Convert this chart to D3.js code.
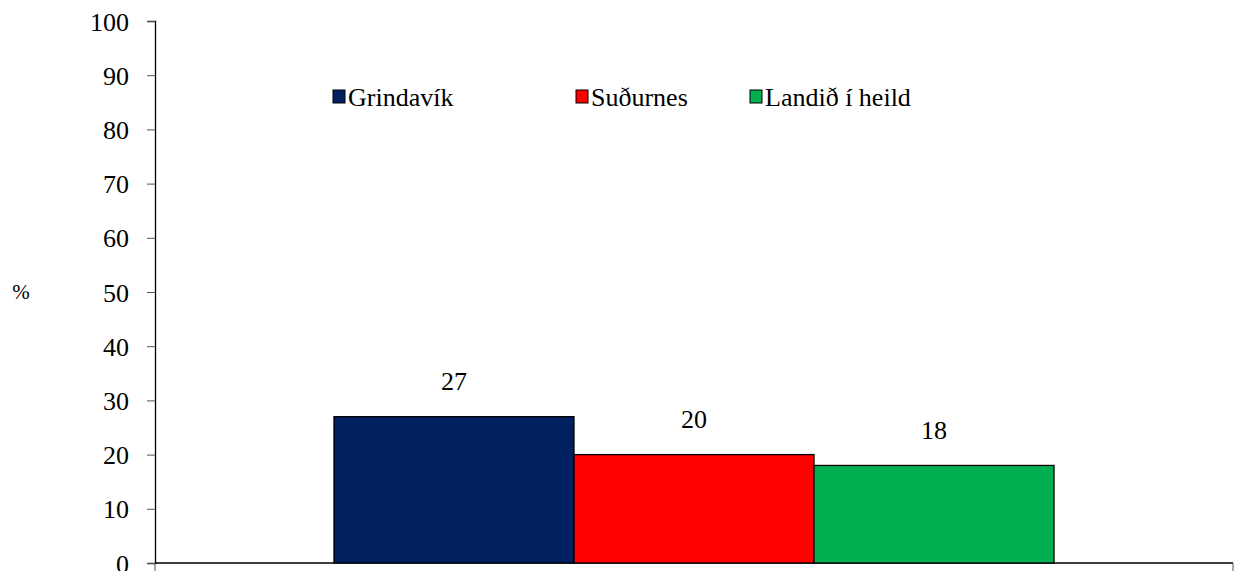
<!DOCTYPE html>
<html><head><meta charset="utf-8">
<script src="https://cdn.jsdelivr.net/npm/d3@7"></script>
</head><body style="margin:0;background:#fff"><svg id="c" width="1238" height="571" style="display:block"></svg>
<script>
const categories = [""];
const seriesNames = ["Grindavík", "Suðurnes", "Landið í heild"];
const seriesValues = [27, 20, 18];
const seriesColors = ["#002060", "#FF0000", "#00B050"];
const yTicks = [0,10,20,30,40,50,60,70,80,90,100];

const FONT = "Times New Roman";
const svg = d3.select("#c");
const L = 155, R = 1233, T = 21, B = 563;
const y = d3.scaleLinear().domain([0,100]).range([B,T]);
const x0 = d3.scaleBand().domain(categories).range([L,R]).paddingInner(0).paddingOuter(0.2486);
const x1 = d3.scaleBand().domain(seriesNames).range([0, x0.bandwidth()]);

function txt(sel, size){ return sel.attr("font-family", FONT).attr("font-size", size).attr("fill","#000"); }

// y axis
const ya = svg.append("g").attr("transform",`translate(${L},0)`)
  .call(d3.axisLeft(y).tickValues(yTicks).tickSize(8).tickPadding(18));
ya.attr("font-family", FONT).attr("font-size", 26);
ya.select(".domain").attr("stroke","#000").attr("stroke-width",1.3);
ya.selectAll(".tick line").attr("stroke","#555");
txt(ya.selectAll(".tick text"), 26).attr("dy","0.35em");

// x axis
const xa = svg.append("g").attr("transform",`translate(0,${B})`);
xa.append("line").attr("x1",L).attr("x2",R).attr("stroke","#000").attr("stroke-width",1.3);
[L,R].forEach(v=>xa.append("line").attr("x1",v).attr("x2",v).attr("y1",0).attr("y2",8).attr("stroke","#555"));

// bars
const g = svg.append("g");
categories.forEach(c=>{
  seriesNames.forEach((s,i)=>{
    const xx = x0(c)+x1(s);
    g.append("rect").attr("x",xx).attr("y",y(seriesValues[i]))
      .attr("width",x1.bandwidth()).attr("height",B-y(seriesValues[i]))
      .attr("fill",seriesColors[i]).attr("stroke","#000").attr("stroke-width",1.3);
    txt(g.append("text").attr("x",xx+x1.bandwidth()/2).attr("y",y(seriesValues[i])-36)
      .attr("text-anchor","middle").attr("dy","0.35em"), 26).text(seriesValues[i]);
  });
});

// y label
txt(svg.append("text").attr("x",21).attr("y",292).attr("text-anchor","middle").attr("dy","0.35em"), 21).text("%");

// legend
const legX = [333, 576, 750];
seriesNames.forEach((s,i)=>{
  svg.append("rect").attr("x",legX[i]).attr("y",90).attr("width",12).attr("height",13)
    .attr("fill",seriesColors[i]).attr("stroke","#000").attr("stroke-width",1);
  txt(svg.append("text").attr("x",legX[i]+15).attr("y",97).attr("dy","0.35em"), 26).text(s);
});
</script></body></html>
